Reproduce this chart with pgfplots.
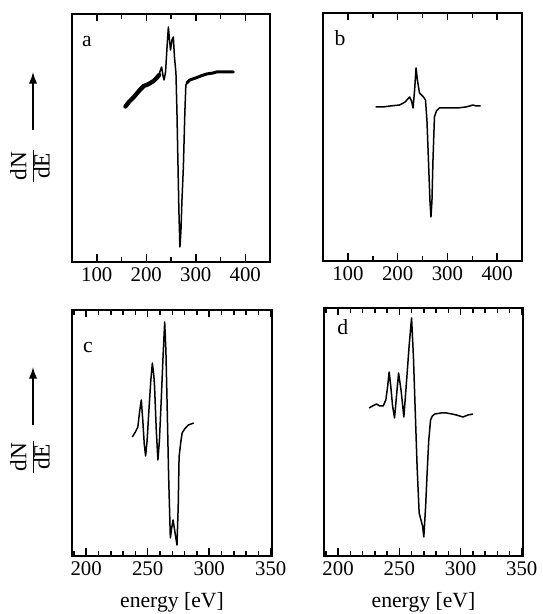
\documentclass[border=0pt]{standalone}
\usepackage{fontspec}
\setmainfont{Liberation Serif}
\usepackage{pgfplots}
\pgfplotsset{compat=1.18}
\usetikzlibrary{arrows.meta}
\pgfplotsset{
  panel/.style={
    scale only axis,
    ymin=0,
    ytick=\empty,
    /pgf/number format/assume math mode=true,
    /pgf/number format/1000 sep={},
    tick label style={font=\fontsize{12.5}{14}\selectfont},
    label style={font=\fontsize{13}{15}\selectfont},
    clip=false,
  },
  wide/.style={xmin=50,xmax=450,xtick={100,200,300,400},minor xtick={150,250,350}},
  narrow/.style={xmin=188.5,xmax=351,xtick={200,250,300,350},
    minor xtick={190,210,220,230,240,260,270,280,290,310,320,330,340}},
}
\begin{document}
\begin{tikzpicture}
\path[use as bounding box] (0,0) rectangle (325.2pt,368.4pt);
% panel a
\begin{axis}[panel,wide,at={(43.2pt,211.2pt)},anchor=south west,width=118.8pt,height=148.8pt,ymax=248,
  tick style={black,line width=0.9pt},major tick length=4.5pt]
\addplot[black,line width=0.9pt,line join=round] coordinates {
(157,155)(165,160)(175,165)(187,172)(195,176)(205,178)(215,181)(221,184)(226,188)(231,195)
(234,186)(236,182)(239,190)(242,215)(244.7,235)(247,222)(249,212)(252,222)(254.7,225)(257,205)
(260,189)(262,150)(264,100)(266,50)(268,15)(270,30)(272,60)(275,95)(278,150)(280,177)
(284,180)(288,182)(300,184)(310,186)(322,188)(335,189)(342,190)(360,190)(377,190)};
\addplot[black,line width=2.6pt,line join=round,line cap=round] coordinates {
(158,155.5)(165,160)(175,165)(187,172)(195,176)(205,178)(215,181)(221,184)(226,187)};
\addplot[black,line width=1.8pt,line join=round,line cap=round] coordinates {
(282,179)(288,182)(300,184)(310,186)(322,188)(335,189)(342,190)(360,190)(376,190)};
\draw[line width=1pt] (rel axis cs:0,0) rectangle (rel axis cs:1,1);
\pgfplotsinvokeforeach{100,200,300,400}{
  \draw[line width=0.9pt] (axis cs:#1,0) -- ++(0pt,4.5pt);
  \draw[line width=0.9pt] (axis cs:#1,248) -- ++(0pt,-4.5pt);}
\pgfplotsinvokeforeach{150,250,350}{
  \draw[line width=0.9pt] (axis cs:#1,0) -- ++(0pt,2.5pt);
  \draw[line width=0.9pt] (axis cs:#1,248) -- ++(0pt,-2.5pt);}
\node[font=\fontsize{13}{15}\selectfont] at (rel axis cs:0.076,0.887) {a};
\end{axis}
% panel b
\begin{axis}[panel,wide,at={(193.8pt,211.8pt)},anchor=south west,width=119.4pt,height=148.8pt,ymax=248,
  tick style={black,line width=0.9pt},major tick length=4.5pt]
\addplot[black,line width=0.9pt,line join=round] coordinates {
(156,154)(170,154)(185,155)(204,156)(215,159)(224,164)(228,160)(231,153)(234,170)(237,193)
(240,180)(244,168)(248,166)(252,164)(256,161)(259,140)(262,100)(265,60)(267,44)(269,60)
(271,100)(274,144)(278,150)(284,153)(300,153)(320,153)(337,154)(345,155)(351,156)(358,155)(367,155)};
\draw[line width=1pt] (rel axis cs:0,0) rectangle (rel axis cs:1,1);
\pgfplotsinvokeforeach{100,200,300,400}{
  \draw[line width=0.9pt] (axis cs:#1,0) -- ++(0pt,4.5pt);
  \draw[line width=0.9pt] (axis cs:#1,248) -- ++(0pt,-4.5pt);}
\pgfplotsinvokeforeach{150,250,350}{
  \draw[line width=0.9pt] (axis cs:#1,0) -- ++(0pt,2.5pt);
  \draw[line width=0.9pt] (axis cs:#1,248) -- ++(0pt,-2.5pt);}
\node[font=\fontsize{13}{15}\selectfont] at (rel axis cs:0.086,0.899) {b};
\end{axis}
% panel c
\begin{axis}[panel,narrow,at={(43.2pt,34.8pt)},anchor=south west,width=120pt,height=147.6pt,ymax=246,
  xlabel={energy [eV]},xlabel style={yshift=-3pt},tick style={black,line width=0.9pt},major tick length=4.5pt]
\addplot[black,line width=0.9pt,line join=round] coordinates {
(237.5,119)(240,124)(242,129)(243.5,145)(244.8,156)(246,136)(247.2,112)(248.3,100)(249.5,115)(251,146)
(252.5,175)(253.8,193)(255,180)(255.6,169)(257,125)(258.3,96)(259.5,115)(261,156)(262.5,200)(263.8,234)
(264.8,205)(265.7,156)(267,80)(268.4,18)(269.5,28)(270.6,36)(272,25)(273.8,11)(274.8,50)(275.5,99)
(277,115)(278,123)(280,127)(283,131)(287.4,133)};
\draw[line width=1pt] (rel axis cs:0,0) rectangle (rel axis cs:1,1);
\pgfplotsinvokeforeach{200,250,300,350}{
  \draw[line width=0.9pt] (axis cs:#1,0) -- ++(0pt,4.5pt);
  \draw[line width=0.9pt] (axis cs:#1,246) -- ++(0pt,-4.5pt);}
\pgfplotsinvokeforeach{190,210,220,230,240,260,270,280,290,310,320,330,340}{
  \draw[line width=0.9pt] (axis cs:#1,0) -- ++(0pt,2.5pt);
  \draw[line width=0.9pt] (axis cs:#1,246) -- ++(0pt,-2.5pt);}
\node[font=\fontsize{13}{15}\selectfont] at (rel axis cs:0.08,0.846) {c};
\end{axis}
% panel d
\begin{axis}[panel,narrow,at={(194.4pt,34.8pt)},anchor=south west,width=119.4pt,height=148.8pt,ymax=248,
  xlabel={energy [eV]},xlabel style={yshift=-3pt},tick style={black,line width=0.9pt},major tick length=4.5pt]
\addplot[black,line width=0.9pt,line join=round] coordinates {
(225.4,148)(228,150)(231.4,152)(234,150)(236.8,150)(239,156)(240.5,170)(241.7,184)(243,170)(244.5,150)
(246.1,138)(247.7,160)(249.4,183)(251.5,165)(253.7,139)(255,160)(256.4,183)(258,210)(260,238)(261.5,200)
(262.7,156)(264.5,90)(266.2,43)(268.1,34)(269,30)(270,19)(271.5,50)(272.7,83)(274,115)(275.5,136)
(277,140)(279,142)(284,143)(288.5,143)(293,142)(296.6,141)(302,139)(306,141)(310.2,142)};
\draw[line width=1pt] (rel axis cs:0,0) rectangle (rel axis cs:1,1);
\pgfplotsinvokeforeach{200,250,300,350}{
  \draw[line width=0.9pt] (axis cs:#1,0) -- ++(0pt,4.5pt);
  \draw[line width=0.9pt] (axis cs:#1,248) -- ++(0pt,-4.5pt);}
\pgfplotsinvokeforeach{190,210,220,230,240,260,270,280,290,310,320,330,340}{
  \draw[line width=0.9pt] (axis cs:#1,0) -- ++(0pt,2.5pt);
  \draw[line width=0.9pt] (axis cs:#1,248) -- ++(0pt,-2.5pt);}
\node[font=\fontsize{13}{15}\selectfont] at (rel axis cs:0.095,0.923) {d};
\end{axis}
% y labels
\draw[-{Latex[length=7pt,width=5pt]},line width=0.9pt] (19.8pt,290.4pt) -- (19.8pt,325.2pt);
\node[rotate=90,inner sep=0pt,font=\fontsize{14}{15}\selectfont] at (19.8pt,268.8pt)
  {\renewcommand\arraystretch{0.85}\setlength\tabcolsep{1pt}\begin{tabular}{c}dN\\\hline dE\end{tabular}};
\draw[-{Latex[length=7pt,width=5pt]},line width=0.9pt] (19.8pt,113.4pt) -- (19.8pt,148.2pt);
\node[rotate=90,inner sep=0pt,font=\fontsize{14}{15}\selectfont] at (19.8pt,94.2pt)
  {\renewcommand\arraystretch{0.85}\setlength\tabcolsep{1pt}\begin{tabular}{c}dN\\\hline dE\end{tabular}};
\end{tikzpicture}
\end{document}
